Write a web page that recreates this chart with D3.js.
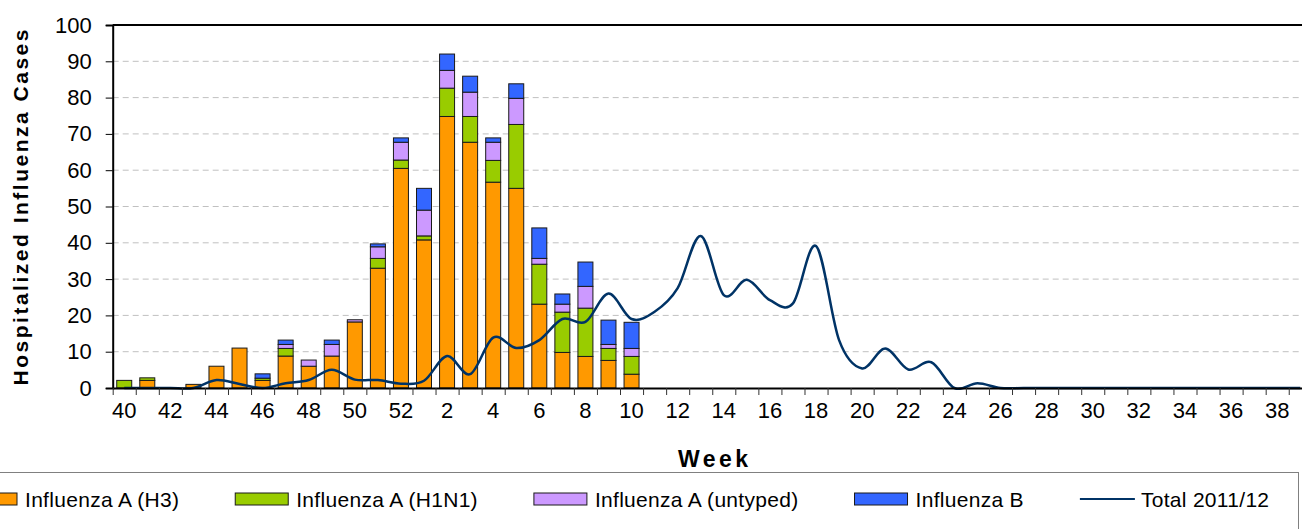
<!DOCTYPE html>
<html>
<head>
<meta charset="utf-8">
<script src="https://cdn.jsdelivr.net/npm/d3@7"></script>
<style>
  html, body { margin: 0; padding: 0; background: #fff; overflow: hidden; }
  text { font-family: "Liberation Sans", Arial, sans-serif; fill: #000; }
</style>
</head>
<body>
<svg id="chart" width="1302" height="529"></svg>
<script>
// ---- data ----
const weeks = [40,41,42,43,44,45,46,47,48,49,50,51,52,
  1,2,3,4,5,6,7,8,9,10,11,12,13,14,15,16,17,18,19,20,21,22,23,24,25,26,27,28,29,30,31,32,33,34,35,36,37,38,39];
const seriesNames = ["Influenza A (H3)", "Influenza A (H1N1)", "Influenza A (untyped)", "Influenza B"];
// bar values for weeks 40 .. 10 (later weeks have no bars)
const fluAH3     = [0, 2.1, 0, 1, 6, 11, 2.1, 8.8, 6, 8.8, 18.2, 33, 60.5, 40.8, 74.8, 67.7, 56.7, 55, 23.1, 9.8, 8.7, 7.6, 3.8];
const fluAH1N1   = [2.1, 0.7, 0, 0, 0, 0, 0.6, 2.1, 0, 0, 0, 2.7, 2.3, 1.1, 7.8, 7.1, 6.0, 17.6, 11, 11.1, 13.3, 3.3, 4.9];
const fluAUntyped= [0, 0, 0, 0, 0, 0, 0, 1.1, 1.7, 3.2, 0.6, 3.2, 4.9, 7.1, 4.9, 6.7, 5.0, 7.2, 1.6, 2.2, 6.0, 1.1, 2.2];
const fluB       = [0, 0, 0, 0, 0, 0, 1.2, 1.2, 0, 1.2, 0, 0.8, 1.2, 6.0, 4.5, 4.4, 1.2, 4.0, 8.4, 2.8, 6.7, 6.7, 7.2];
// line: total 2011/12 for all weeks 40 .. 39
const total1112 = [0, 0, 0, 0, 2.2, 1.1, 0, 1.3, 2.2, 5.0, 2.3, 2.2, 1.2,
  2.0, 8.8, 3.8, 13.9, 11.0, 13.2, 19.0, 18.2, 26.0, 19.0, 21.0, 27.5, 41.9, 25.6, 29.8, 24.2, 23.3, 39.1,
  13.2, 5.4, 10.9, 5.1, 7.1, 0, 1.3, 0, 0, 0, 0, 0, 0, 0, 0, 0, 0, 0, 0, 0, 0];
const yTicks = [0,10,20,30,40,50,60,70,80,90,100];
const colors = ["#FF9900", "#99CC00", "#CC99FF", "#3366FF"];
const lineColor = "#003366";

// ---- layout ----
const svg = d3.select("#chart");
const x0 = 112.7, x1 = 1311.8, yTop = 25, yBot = 388;

const x = d3.scaleBand().domain(d3.range(weeks.length)).range([x0, x1])
  .paddingInner(0.35).paddingOuter(0.175);
const xEdge = d3.scaleLinear().domain([0, weeks.length]).range([x0, x1]);
const y = d3.scaleLinear().domain([0, 100]).range([yBot, yTop]);

// gridlines
svg.append("g").selectAll("line").data(yTicks.filter(d => d > 0 && d < 100)).join("line")
  .attr("x1", x0).attr("x2", 1302).attr("y1", d => y(d)).attr("y2", d => y(d))
  .attr("stroke", "#c0c0c0").attr("stroke-width", 1).attr("stroke-dasharray", "6,4");

// top border line
svg.append("line").attr("x1", x0).attr("x2", 1302).attr("y1", y(100)).attr("y2", y(100))
  .attr("stroke", "#000").attr("stroke-width", 2);

// stacked bars
const nBars = fluAH3.length;
const rows = d3.range(nBars).map(i => ({i, s0: fluAH3[i], s1: fluAH1N1[i], s2: fluAUntyped[i], s3: fluB[i]}));
const stack = d3.stack().keys(["s0","s1","s2","s3"]);
const stacked = stack(rows);
const gBars = svg.append("g");
stacked.forEach((layer, k) => {
  gBars.append("g").selectAll("rect").data(layer.filter(d => d[1] - d[0] > 0)).join("rect")
    .attr("x", d => x(d.data.i))
    .attr("width", x.bandwidth())
    .attr("y", d => y(d[1]))
    .attr("height", d => y(d[0]) - y(d[1]))
    .attr("fill", colors[k])
    .attr("stroke", "#1a1a1a").attr("stroke-width", 1);
});

// line
const line = d3.line()
  .x((d, i) => x(i) + x.bandwidth() / 2)
  .y(d => y(d))
  .curve(d3.curveCatmullRom.alpha(0));
svg.append("path").datum(total1112).attr("d", line)
  .attr("fill", "none").attr("stroke", lineColor).attr("stroke-width", 2.5)
  .attr("stroke-linejoin", "round");

// y axis
const yAxis = svg.append("g").attr("transform", `translate(${x0},0)`)
  .call(d3.axisLeft(y).tickValues(yTicks).tickSize(7).tickPadding(14));
yAxis.select(".domain").attr("stroke", "#000").attr("stroke-width", 2);
yAxis.selectAll(".tick line").attr("stroke", "#000");
yAxis.selectAll(".tick text").style("font-size", "22px").style("font-family", "Liberation Sans, Arial, sans-serif");

// x axis tick marks at band edges
const xTickAxis = svg.append("g").attr("transform", `translate(0,${yBot})`)
  .call(d3.axisBottom(xEdge).tickValues(d3.range(0, weeks.length + 1)).tickFormat("").tickSize(7).tickSizeOuter(0));
xTickAxis.select(".domain").attr("stroke", "#000").attr("stroke-width", 2);
xTickAxis.selectAll(".tick line").attr("stroke", "#333");

// x axis labels (every second week)
const xLab = svg.append("g").attr("transform", `translate(0,${yBot})`)
  .call(d3.axisBottom(x).tickValues(d3.range(0, weeks.length, 2)).tickFormat(i => weeks[i]).tickSize(0).tickPadding(14));
xLab.select(".domain").remove();
xLab.selectAll(".tick text").style("font-size", "22px").style("font-family", "Liberation Sans, Arial, sans-serif");

// axis titles
svg.append("text")
  .attr("transform", `translate(28,${(yTop + yBot) / 2 + 1}) rotate(-90)`)
  .attr("text-anchor", "middle")
  .style("font-size", "21px").style("font-weight", "bold")
  .attr("textLength", 356).attr("lengthAdjust", "spacing")
  .text("Hospitalized Influenza Cases");
svg.append("text")
  .attr("x", 713).attr("y", 467)
  .attr("text-anchor", "middle")
  .style("font-size", "23px").style("font-weight", "bold")
  .attr("textLength", 70).attr("lengthAdjust", "spacing")
  .text("Week");

// legend
svg.append("rect").attr("x", -10).attr("y", 472.5).attr("width", 1308.5).attr("height", 80)
  .attr("fill", "none").attr("stroke", "#808080").attr("stroke-width", 1);
const legendItems = seriesNames.map((n, k) => ({name: n, color: colors[k], type: "rect"}))
  .concat([{name: "Total 2011/12", color: lineColor, type: "line"}]);
let lx = -36;
const ly = 499;
legendItems.forEach(it => {
  const g = svg.append("g");
  if (it.type === "rect") {
    g.append("rect").attr("x", lx).attr("y", ly - 6).attr("width", 53).attr("height", 12)
      .attr("fill", it.color).attr("stroke", "#1a1a1a").attr("stroke-width", 1);
  } else {
    g.append("line").attr("x1", lx).attr("x2", lx + 55).attr("y1", ly).attr("y2", ly)
      .attr("stroke", it.color).attr("stroke-width", 2);
  }
  const t = g.append("text").attr("x", lx + 61).attr("y", ly + 7.5)
    .style("font-size", "21px").style("letter-spacing", "0.3px").text(it.name);
  const w = t.node().getComputedTextLength();
  lx = lx + 61 + w + 56;
});
</script>
</body>
</html>
